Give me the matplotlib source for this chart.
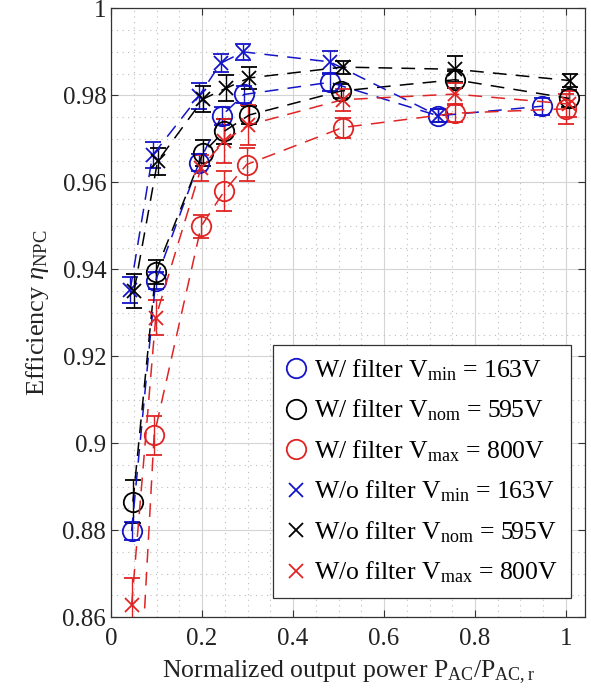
import matplotlib
matplotlib.use("Agg")
import matplotlib.pyplot as plt
from matplotlib.lines import Line2D
from matplotlib.ticker import MultipleLocator, FormatStrFormatter

plt.rcParams['font.family'] = ['Liberation Serif', 'DejaVu Serif']
plt.rcParams['mathtext.fontset'] = 'custom'
plt.rcParams['mathtext.rm'] = 'Liberation Serif'
plt.rcParams['mathtext.it'] = 'Liberation Serif:italic'

# with filter (circles)
p_min_f = [0.045, 0.098, 0.193, 0.243, 0.292, 0.481, 0.719, 0.947]
eta_min_f = [0.8798, 0.9374, 0.9645, 0.9753, 0.9802, 0.9830, 0.9753, 0.9775]
err_min_f = [0.002, 0.002, 0.002, 0.002, 0.002, 0.002, 0.0015, 0.002]

p_nom_f = [0.048, 0.098, 0.2015, 0.248, 0.304, 0.505, 0.756, 1.007]
eta_nom_f = [0.8866, 0.9394, 0.9667, 0.9717, 0.9755, 0.9810, 0.9836, 0.9793]
err_nom_f = [0.005, 0.0027, 0.003, 0.0028, 0.002, 0.0015, 0.002, 0.002]

p_max_f = [0.045, 0.0945, 0.198, 0.249, 0.298, 0.509, 0.756, 1.0]
eta_max_f = [0.807, 0.9018, 0.9499, 0.958, 0.9641, 0.9726, 0.9759, 0.9769]
err_max_f = [0.005, 0.0045, 0.0027, 0.0045, 0.0038, 0.0023, 0.002, 0.0035]

# without filter (crosses)
p_min_nf = [0.042, 0.091, 0.193, 0.241, 0.291, 0.481, 0.719]
eta_min_nf = [0.9352, 0.9662, 0.9798, 0.9874, 0.990, 0.9877, 0.9753]
err_min_nf = [0.003, 0.003, 0.003, 0.002, 0.0018, 0.0025, 0.0015]

p_nom_nf = [0.0505, 0.102, 0.203, 0.252, 0.303, 0.509, 0.756, 1.009]
eta_nom_nf = [0.935, 0.9648, 0.9792, 0.9816, 0.984, 0.9865, 0.986, 0.9834]
err_nom_nf = [0.004, 0.003, 0.003, 0.003, 0.0025, 0.0015, 0.003, 0.0015]

p_max_nf = [0.045, 0.098, 0.198, 0.249, 0.302, 0.509, 0.756, 1.007]
eta_max_nf = [0.8627, 0.9289, 0.9634, 0.9695, 0.9732, 0.979, 0.9803, 0.978]
err_max_nf = [0.0063, 0.004, 0.003, 0.005, 0.0046, 0.0025, 0.0025, 0.003]

labels = [r'W/ filter V$_{\mathrm{min}}$ = 163V',
          r'W/ filter V$_{\mathrm{nom}}$ = 595V',
          r'W/ filter V$_{\mathrm{max}}$ = 800V',
          r'W/o filter V$_{\mathrm{min}}$ = 163V',
          r'W/o filter V$_{\mathrm{nom}}$ = 595V',
          r'W/o filter V$_{\mathrm{max}}$ = 800V']

blue = '#1414c8'
black = '#000000'
red = '#e02424'

fig = plt.figure(figsize=(5.91, 6.99), dpi=100)
ax = fig.add_axes([0.188, 0.117, 0.802, 0.871])

series = [
    (p_min_f, eta_min_f, err_min_f, blue, 'o'),
    (p_nom_f, eta_nom_f, err_nom_f, black, 'o'),
    (p_max_f, eta_max_f, err_max_f, red, 'o'),
    (p_min_nf, eta_min_nf, err_min_nf, blue, 'x'),
    (p_nom_nf, eta_nom_nf, err_nom_nf, black, 'x'),
    (p_max_nf, eta_max_nf, err_max_nf, red, 'x'),
]

for x, y, e, c, m in series:
    ms = 14 if m == 'o' else 9.5
    l = ax.errorbar(x, y, yerr=e, color=c, marker=m, ms=ms, mfc='none',
                    mec=c, mew=1.3, lw=1.1, elinewidth=1.0, capsize=5.5,
                    capthick=1.0, linestyle='--', zorder=3)
    l[0].set_dashes([9, 6])

ax.set_xlim(0, 1.042)
ax.set_ylim(0.86, 1.0)
ax.xaxis.set_major_locator(MultipleLocator(0.2))
ax.xaxis.set_minor_locator(MultipleLocator(0.05))
ax.yaxis.set_major_locator(MultipleLocator(0.02))
ax.yaxis.set_minor_locator(MultipleLocator(0.005))
ax.xaxis.set_major_formatter(FormatStrFormatter('%g'))
ax.yaxis.set_major_formatter(FormatStrFormatter('%g'))
ax.grid(which='major', color='#d4d4d4', lw=0.8, zorder=0)
ax.grid(which='minor', color='#bdbdbd', lw=0.8, linestyle=(0, (1, 4)), zorder=0)
ax.set_axisbelow(True)
ax.tick_params(which='both', direction='in', top=True, right=True,
               labelsize=18, color='#333333', labelcolor='#222222')
ax.tick_params(which='major', length=5)
ax.tick_params(which='minor', length=0)
ax.tick_params(axis='x', pad=8)
for s in ax.spines.values():
    s.set_color('#333333')
    s.set_linewidth(0.9)

ax.set_xlabel(r'Normalized output power P$_{\mathrm{AC}}$/P$_{\mathrm{AC,r}}$',
              fontsize=18.5, color='#222222', labelpad=6)
ax.set_ylabel(r'Efficiency $\eta_{\mathrm{NPC}}$', fontsize=19, color='#222222',
              labelpad=8)

handles = [Line2D([], [], color=c, marker=m, ms=(14 if m == 'o' else 9.5),
                  mfc='none', mew=1.3, linestyle='none')
           for (_, _, _, c, m) in series]
leg = ax.legend(handles, labels, loc='lower right', bbox_to_anchor=(0.97, 0.031),
                fontsize=18.5, fancybox=False, framealpha=1, edgecolor='#333333',
                handlelength=0.8, handletextpad=0.3, labelspacing=0.58,
                borderpad=0.5, borderaxespad=0)
leg.get_frame().set_linewidth(0.9)

fig.savefig('out.png', dpi=100)
